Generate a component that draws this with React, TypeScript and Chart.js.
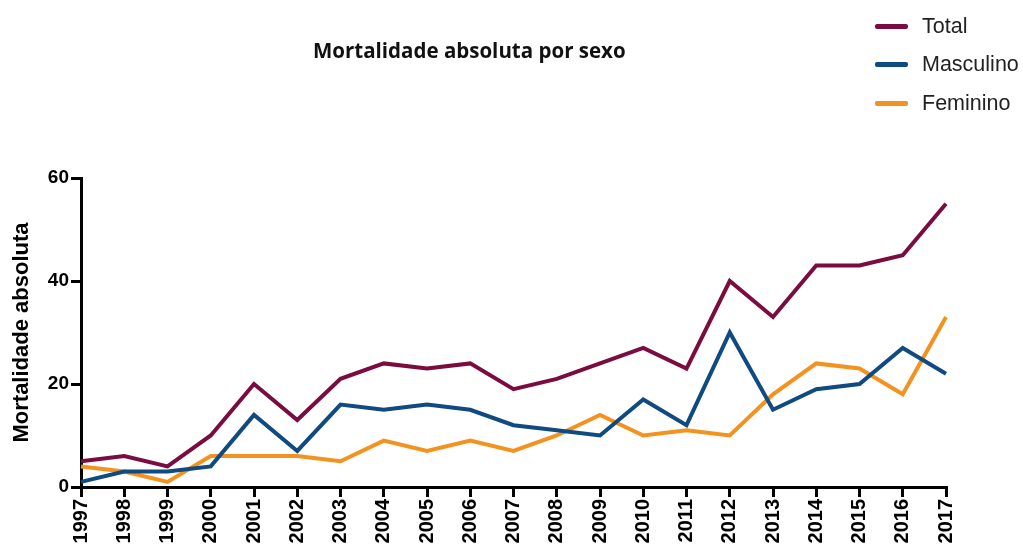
import React, { useEffect, useRef } from "react";
import { Chart, registerables } from "chart.js";

Chart.register(...registerables);

const years = ["1997","1998","1999","2000","2001","2002","2003","2004","2005","2006","2007","2008","2009","2010","2011","2012","2013","2014","2015","2016","2017"];
const total = [5, 6, 4, 10, 20, 13, 21, 24, 23, 24, 19, 21, 24, 27, 23, 40, 33, 43, 43, 45, 55];
const masculino = [1, 3, 3, 4, 14, 7, 16, 15, 16, 15, 12, 11, 10, 17, 12, 30, 15, 19, 20, 27, 22];
const feminino = [4, 3, 1, 6, 6, 6, 5, 9, 7, 9, 7, 10, 14, 10, 11, 10, 18, 24, 23, 18, 33];
const yTicks = [0, 20, 40, 60];

const seriesNames = ["Total", "Masculino", "Feminino"];
const seriesColors = ["#7b0c3f", "#0f4a80", "#f3921f"];

export default function App() {
  const ref = useRef<HTMLCanvasElement | null>(null);
  useEffect(() => {
    if (!ref.current) return;
    const chart = new Chart(ref.current, {
      type: "line",
      data: {
        labels: years,
        datasets: [total, masculino, feminino].map((d, i) => ({
          label: seriesNames[i],
          data: d,
          borderColor: seriesColors[i],
          backgroundColor: seriesColors[i],
          borderWidth: 4,
          pointRadius: 0,
          tension: 0,
          borderJoinStyle: "miter" as const,
        })),
      },
      options: {
        responsive: false,
        animation: false,
        layout: { padding: { top: 178, right: 77, bottom: 0, left: 0 }, autoPadding: false },
        plugins: { legend: { display: false }, title: { display: false }, tooltip: { enabled: false } },
        scales: {
          x: {
            type: "category",
            offset: false,
            grid: { drawOnChartArea: false, drawTicks: true, tickLength: 10, color: "#000", lineWidth: 3 },
            border: { display: true, color: "#000", width: 3 },
            ticks: {
              minRotation: 90,
              maxRotation: 90,
              padding: 2,
              color: "#000",
              autoSkip: false,
              font: { family: "'Liberation Sans', Arial, sans-serif", size: 20, weight: "bold" },
            },
            afterFit: (s: any) => { s.height = 60; },
          },
          y: {
            min: 0,
            max: 60,
            afterBuildTicks: (s: any) => { s.ticks = yTicks.map((v) => ({ value: v })); },
            grid: { drawOnChartArea: false, drawTicks: true, tickLength: 10, color: "#000", lineWidth: 3 },
            border: { display: true, color: "#000", width: 3 },
            ticks: {
              padding: 2,
              color: "#000",
              font: { family: "'Liberation Sans', Arial, sans-serif", size: 19, weight: "bold" },
            },
            title: {
              display: true,
              text: "Mortalidade absoluta",
              color: "#000",
              padding: { top: 9, bottom: 0 },
              font: { family: "'Liberation Sans', Arial, sans-serif", size: 22, weight: "bold" },
            },
            afterFit: (s: any) => { s.width = 81; },
          },
        },
      },
    });
    return () => chart.destroy();
  }, []);

  return (
    <div style={{ position: "fixed", left: 0, top: 0, width: 1023, height: 547, background: "#fff" }}>
      <canvas ref={ref} width={1023} height={547} style={{ position: "absolute", left: 0, top: 0 }} />
      <div
        style={{
          position: "absolute",
          left: 313,
          top: 36,
          whiteSpace: "nowrap",
          fontFamily: "'Open Sans', sans-serif",
          fontWeight: 700,
          fontSize: 20.5,
          color: "#111",
        }}
      >
        Mortalidade absoluta por sexo
      </div>
      {seriesNames.map((n, i) => (
        <div key={n} style={{ position: "absolute", left: 875, top: 12 + i * 38.5, height: 28, display: "flex", alignItems: "center" }}>
          <div style={{ width: 33, height: 5, background: seriesColors[i], borderRadius: 2 }} />
          <span style={{ marginLeft: 14, fontFamily: "'Liberation Sans', Arial, sans-serif", fontSize: 21.5, color: "#222" }}>{n}</span>
        </div>
      ))}
    </div>
  );
}
